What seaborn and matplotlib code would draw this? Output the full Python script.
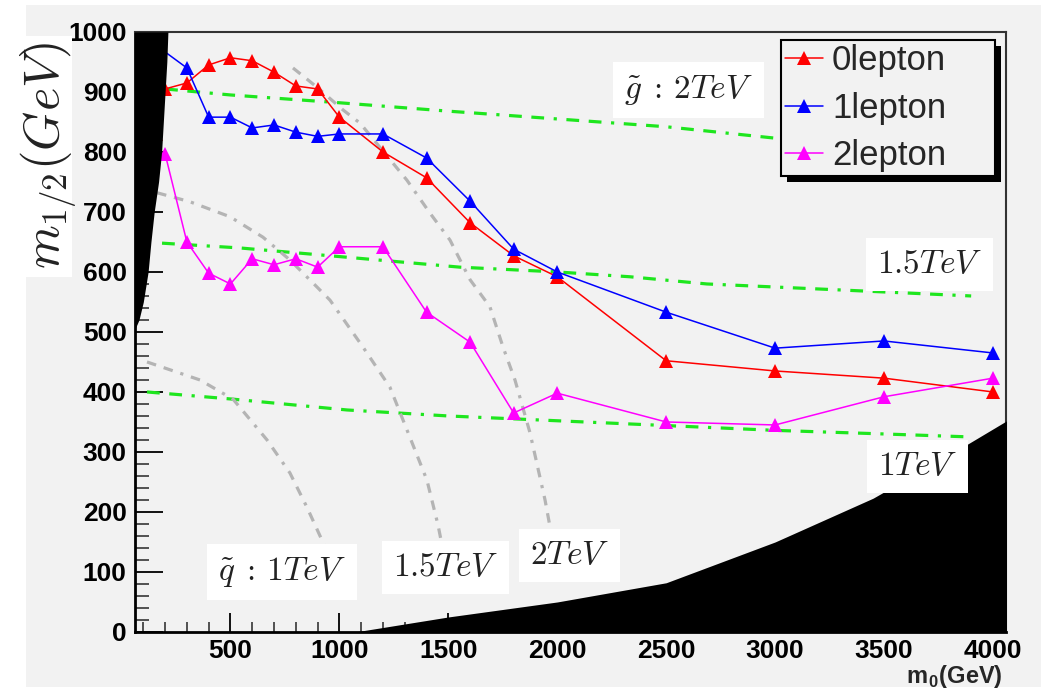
import matplotlib
matplotlib.use('Agg')
import matplotlib.pyplot as plt
from matplotlib.patches import Rectangle
from matplotlib.transforms import IdentityTransform
from matplotlib.ticker import MultipleLocator
import pandas as pd
import seaborn as sns

# exclusion limits, m0 vs m1/2 (GeV)
m0_0lep = [160, 200, 300, 400, 500, 600, 700, 800, 900, 1000, 1200, 1400, 1600, 1800, 2000, 2500, 3000, 3500, 4000]
m12_0lep = [830, 905, 915, 945, 957, 952, 933, 910, 905, 858, 800, 757, 682, 627, 592, 452, 435, 423, 400]

m0_1lep = [150, 300, 400, 500, 600, 700, 800, 900, 1000, 1200, 1400, 1600, 1800, 2000, 2500, 3000, 3500, 4000]
m12_1lep = [980, 940, 858, 858, 840, 845, 833, 826, 830, 830, 790, 718, 638, 600, 533, 473, 485, 465]

m0_2lep = [200, 300, 400, 500, 600, 700, 800, 900, 1000, 1200, 1400, 1600, 1800, 2000, 2500, 3000, 3500, 4000]
m12_2lep = [797, 650, 598, 580, 622, 612, 622, 608, 642, 642, 533, 483, 365, 398, 350, 345, 392, 423]

# gluino mass contours
m0_g2 = [200, 500, 1000, 1500, 2000, 2500, 3000]
m12_g2 = [905, 895, 882, 868, 855, 842, 823]
m0_g15 = [186, 544, 957, 1553, 2000, 2333, 2687, 3300, 3900]
m12_g15 = [648, 640, 627, 608, 600, 592, 580, 570, 560]
m0_g1 = [117, 512, 1035, 1500, 2000, 2500, 3000, 3500, 3900]
m12_g1 = [400, 388, 370, 360, 352, 344, 336, 330, 325]

# squark mass contours
m0_q1 = [117, 360, 512, 668, 773, 851, 934, 960]
m12_q1 = [450, 420, 388, 320, 265, 208, 142, 115]
m0_q15 = [163, 314, 498, 649, 773, 897, 957, 1108, 1232, 1310, 1402, 1453, 1471]
m12_q15 = [732, 717, 692, 658, 620, 575, 553, 475, 408, 337, 253, 178, 145]
m0_q2 = [787, 897, 1017, 1095, 1310, 1416, 1508, 1600, 1691, 1751, 1806, 1875, 1944, 1967]
m12_q2 = [940, 908, 870, 848, 753, 698, 653, 587, 542, 475, 420, 332, 220, 175]

# theoretically excluded regions
left_m12 = [1000, 950, 900, 850, 800, 750, 700, 650, 600, 550, 520, 505]
left_m0 = [213, 208, 200, 192, 184, 170, 150, 135, 122, 100, 80, 62]
bottom_m0 = [1072, 1500, 2000, 2500, 3000, 3450, 3860, 4100]
bottom_m12 = [0, 25, 50, 82, 150, 223, 308, 360]

series = [
    ('0lepton', m0_0lep, m12_0lep, '#ff0000'),
    ('1lepton', m0_1lep, m12_1lep, '#0000ff'),
    ('2lepton', m0_2lep, m12_2lep, '#ff00ff'),
]
gluino = [(m0_g2, m12_g2), (m0_g15, m12_g15), (m0_g1, m12_g1)]
squark = [(m0_q1, m12_q1), (m0_q15, m12_q15), (m0_q2, m12_q2)]

sns.set_style('ticks')
plt.rcParams['font.family'] = ['Liberation Sans', 'DejaVu Sans']
plt.rcParams['mathtext.fontset'] = 'cm'

panel = '#f2f2f2'
fig = plt.figure(figsize=(10.41, 6.9), dpi=100)
fig.patch.set_facecolor('white')
fig.add_artist(Rectangle((0.025, 0.0043), 0.975, 0.988, transform=fig.transFigure,
                         facecolor=panel, edgecolor='none', zorder=-1))
ax = fig.add_axes([0.1297, 0.0841, 0.8367, 0.8696])
ax.set_facecolor(panel)

for xs, ys in gluino:
    sns.lineplot(x=xs, y=ys, sort=False, ax=ax, color='#1ee61e', lw=2.3,
                 linestyle=(0, (4, 3, 4, 3, 1, 3)), zorder=2)
for xs, ys in squark:
    sns.lineplot(x=xs, y=ys, sort=False, ax=ax, color='#b4b4b4', lw=2.3,
                 linestyle=(0, (3, 2.5, 3, 2.5, 1, 2.5)), zorder=2)

handles = []
for name, xs, ys, col in series:
    sns.lineplot(x=xs, y=ys, sort=False, ax=ax, color=col, lw=1.1, marker='^',
                 markersize=10, markeredgewidth=0, zorder=3)
    handles.append(ax.lines[-1])

ax.fill_betweenx(left_m12, 0, left_m0, color='black', lw=0, zorder=5)
ax.fill_between(bottom_m0, 0, bottom_m12, color='black', lw=0, zorder=5)

box = dict(facecolor='white', edgecolor='none', pad=8)
labels = [
    (2604, 903, r'$\tilde{g}\;:\,2TeV$'),
    (3710, 612, r'$1.5TeV$'),
    (3655, 275, r'$1TeV$'),
    (737, 100, r'$\tilde{q}\;:\,1TeV$'),
    (1489, 107, r'$1.5TeV$'),
    (2058, 127, r'$2TeV$'),
]
for x, y, s in labels:
    ax.text(x, y, s, fontsize=24, color='#222222', ha='center', va='center',
            bbox=box, zorder=6)

ax.set_xlim(62, 4060)
ax.set_ylim(0, 1000)
ax.xaxis.set_major_locator(MultipleLocator(500))
ax.xaxis.set_minor_locator(MultipleLocator(100))
ax.yaxis.set_major_locator(MultipleLocator(100))
ax.yaxis.set_minor_locator(MultipleLocator(20))
ax.tick_params(axis='x', which='major', direction='in', length=14, width=1.3,
               labelsize=19, pad=5, colors='black')
ax.tick_params(axis='x', which='minor', direction='in', length=7, width=1.1)
ax.tick_params(axis='y', which='major', direction='in', length=20, width=1.3,
               labelsize=19, pad=6, colors='black')
ax.tick_params(axis='y', which='minor', direction='in', length=10, width=1.1)
for t in ax.get_xticklabels() + ax.get_yticklabels():
    t.set_fontweight('bold')
ax.set_xlabel('')
ax.set_ylabel('')
for side in ['left', 'bottom']:
    ax.spines[side].set_linewidth(2)
    ax.spines[side].set_color('black')
for side in ['top', 'right']:
    ax.spines[side].set_linewidth(1.5)
    ax.spines[side].set_color('#333333')

leg = ax.legend(handles, [s[0] for s in series], loc='upper left',
                bbox_to_anchor=(0.7417, 0.7484, 0.2457, 0.2383), mode='expand',
                fontsize=25, handlelength=1.1, handletextpad=0.25, labelspacing=0.42,
                borderpad=0.12, borderaxespad=0, fancybox=False, framealpha=1,
                facecolor=panel, edgecolor='black')
leg.get_frame().set_linewidth(1.5)
leg.set_zorder(10)

# axis titles
fig.add_artist(Rectangle((0.025, 0.5986), 0.0442, 0.3493, transform=fig.transFigure,
                         facecolor='white', edgecolor='none', zorder=1))
fig.text(49 / 1041, 1 - 155 / 690, r'$m_{1/2}(GeV)$', rotation=90, fontsize=36,
         ha='center', va='center', color='#222222', zorder=2)
fig.text(1003 / 1041, 1 - 683 / 690, r'm$_\mathregular{0}$(GeV)', fontsize=17,
         fontweight='bold', ha='right', va='baseline')

# legend shadow, offset down-right
fig.canvas.draw()
bb = leg.get_window_extent()
ax.add_patch(Rectangle((bb.x0 + 6, bb.y0 - 6), bb.width, bb.height, transform=IdentityTransform(),
                       facecolor='black', edgecolor='none', zorder=9.9, clip_on=False))

fig.savefig('out.png', dpi=100)
